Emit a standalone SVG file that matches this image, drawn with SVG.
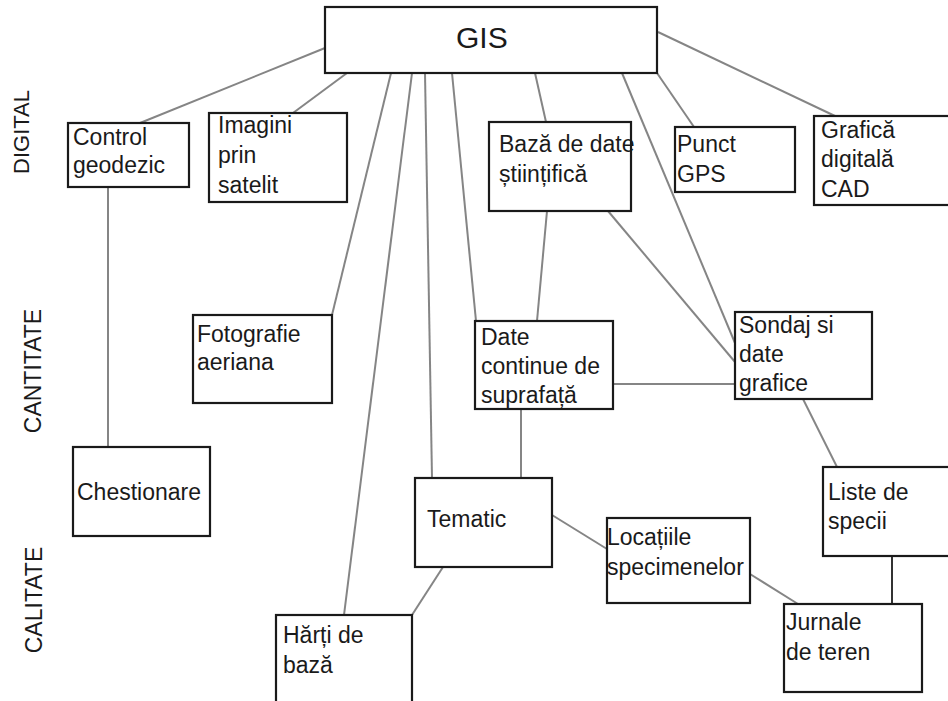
<svg xmlns="http://www.w3.org/2000/svg" width="948" height="701" viewBox="0 0 948 701">
<style>
.box{fill:#fff;stroke:#1a1a1a;stroke-width:2.2}
.t{font-family:"Liberation Sans",Arial,sans-serif;font-size:23px;fill:#1a1a1a}
.side{font-family:"Liberation Sans",Arial,sans-serif;font-size:23px;fill:#1a1a1a;text-anchor:middle}
.c line{stroke:#858585;stroke-width:2}
</style>
<rect width="948" height="701" fill="#fff"/>
<g class="c" id="connectors">
<line x1="325" y1="48" x2="140" y2="123"/>
<line x1="347" y1="73" x2="293" y2="113"/>
<line x1="391" y1="73" x2="332" y2="315"/>
<line x1="412" y1="73" x2="344" y2="615"/>
<line x1="425" y1="73" x2="432" y2="478"/>
<line x1="452" y1="73" x2="476" y2="321"/>
<line x1="535" y1="73" x2="546" y2="122"/>
<line x1="622" y1="73" x2="735" y2="343"/>
<line x1="608" y1="211" x2="735" y2="362"/>
<line x1="657" y1="73" x2="694" y2="127"/>
<line x1="658" y1="32" x2="835" y2="116"/>
<line x1="108" y1="187" x2="108" y2="447"/>
<line x1="547" y1="211" x2="537" y2="321"/>
<line x1="613" y1="384" x2="735" y2="384"/>
<line x1="521" y1="409" x2="521" y2="478"/>
<line x1="443" y1="567" x2="412" y2="615"/>
<line x1="552" y1="515" x2="607" y2="549"/>
<line x1="750" y1="574" x2="798" y2="604"/>
<line x1="803" y1="399" x2="837" y2="467"/>
<line x1="892" y1="556" x2="892" y2="604" style="stroke:#333"/>
</g>
<g id="n-gis"><rect class="box" x="325" y="7" width="332" height="66"/><text class="t" x="456" y="48" style="font-size:30px">GIS</text></g>
<g id="n-control"><rect class="box" x="68" y="123" width="121" height="64"/><text class="t" x="73" y="145">Control</text><text class="t" x="73" y="173">geodezic</text></g>
<g id="n-imagini"><rect class="box" x="209" y="113" width="138" height="89"/><text class="t" x="218" y="133">Imagini</text><text class="t" x="218" y="163">prin</text><text class="t" x="218" y="193">satelit</text></g>
<g id="n-baza"><rect class="box" x="489" y="122" width="142" height="89"/><text class="t" x="499" y="152">Bază de date</text><text class="t" x="499" y="182">științifică</text></g>
<g id="n-punct"><rect class="box" x="675" y="127" width="120" height="65"/><text class="t" x="677" y="152">Punct</text><text class="t" x="677" y="182">GPS</text></g>
<g id="n-grafica"><rect class="box" x="814" y="116" width="140" height="89"/><text class="t" x="821" y="138">Grafică</text><text class="t" x="821" y="167">digitală</text><text class="t" x="821" y="197">CAD</text></g>
<g id="n-foto"><rect class="box" x="193" y="315" width="139" height="88"/><text class="t" x="197" y="342">Fotografie</text><text class="t" x="197" y="370">aeriana</text></g>
<g id="n-date"><rect class="box" x="475" y="321" width="138" height="88"/><text class="t" x="481" y="345">Date</text><text class="t" x="481" y="374">continue de</text><text class="t" x="481" y="403">suprafață</text></g>
<g id="n-sondaj"><rect class="box" x="735" y="312" width="137" height="87"/><text class="t" x="739" y="333">Sondaj si</text><text class="t" x="739" y="362">date</text><text class="t" x="739" y="391">grafice</text></g>
<g id="n-chestionare"><rect class="box" x="73" y="447" width="137" height="89"/><text class="t" x="77" y="500">Chestionare</text></g>
<g id="n-tematic"><rect class="box" x="415" y="478" width="137" height="89"/><text class="t" x="427" y="527">Tematic</text></g>
<g id="n-liste"><rect class="box" x="823" y="467" width="131" height="89"/><text class="t" x="828" y="500">Liste de</text><text class="t" x="828" y="529">specii</text></g>
<g id="n-locatii"><rect class="box" x="607" y="518" width="143" height="85"/><text class="t" x="607" y="545">Locațiile</text><text class="t" x="607" y="575">specimenelor</text></g>
<g id="n-harti"><rect class="box" x="276" y="615" width="136" height="95"/><text class="t" x="283" y="643">Hărți de</text><text class="t" x="283" y="673">bază</text></g>
<g id="n-jurnale"><rect class="box" x="784" y="604" width="138" height="88"/><text class="t" x="786" y="630">Jurnale</text><text class="t" x="786" y="660">de teren</text></g>
<g id="labels">
<text class="side" transform="translate(29,132) rotate(-90)" style="font-size:22px">DIGITAL</text>
<text class="side" transform="translate(41,371) rotate(-90)">CANTITATE</text>
<text class="side" transform="translate(42,600) rotate(-90)">CALITATE</text>
</g>
</svg>
